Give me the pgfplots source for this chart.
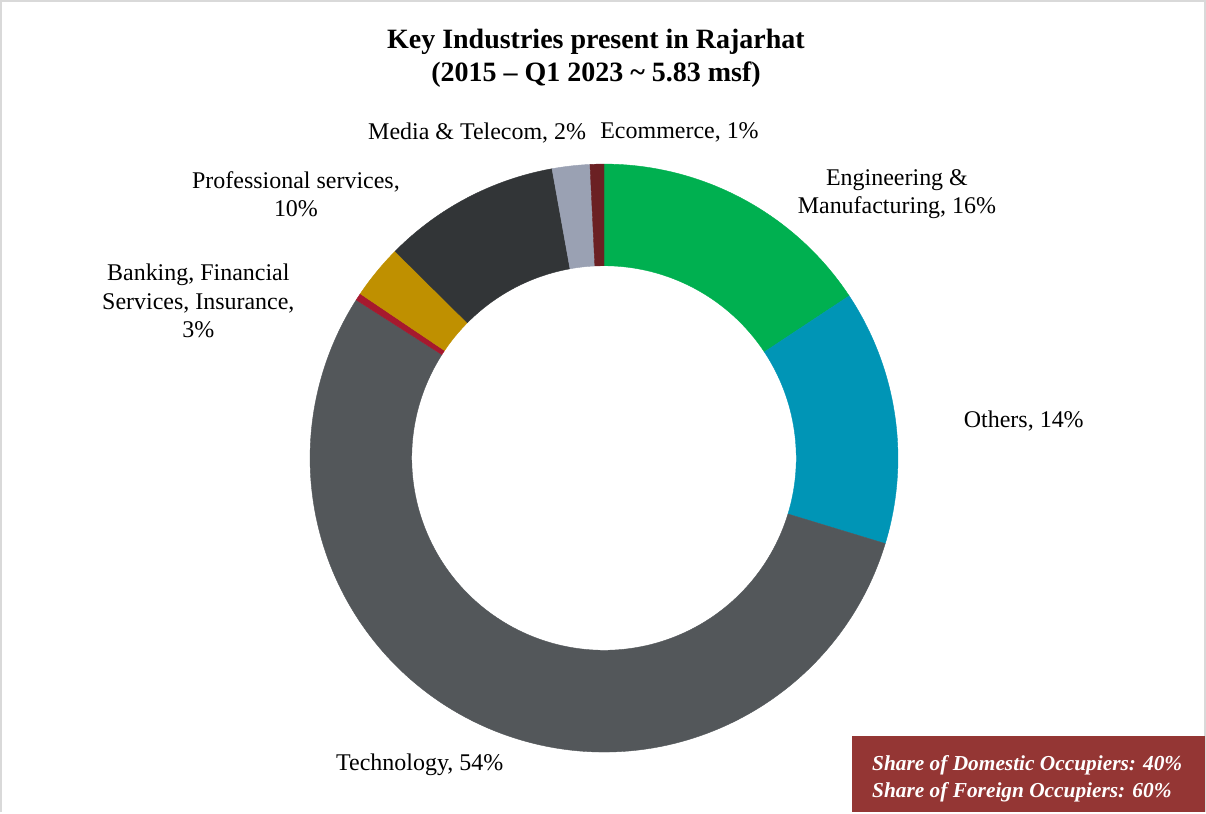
\documentclass[border=0pt]{standalone}
\usepackage{pgfplots}
\pgfplotsset{compat=1.18}
\usepackage{fontspec}
\setmainfont{Liberation Serif}
\definecolor{cEng}{HTML}{00B050}
\definecolor{cOth}{HTML}{0095B6}
\definecolor{cTech}{HTML}{53575A}
\definecolor{cRed}{HTML}{A6192E}
\definecolor{cBank}{HTML}{BF9000}
\definecolor{cProf}{HTML}{323537}
\definecolor{cMedia}{HTML}{9AA1B3}
\definecolor{cEcom}{HTML}{6B2023}
\definecolor{cBox}{HTML}{943634}
\definecolor{cFrame}{HTML}{D9D9D9}
\tikzset{lbl/.style={font=\fontsize{11.9}{14}\selectfont, align=center, inner sep=0pt}}
% donut slice: start %, end % (cumulative, clockwise from top), colour
\newcommand{\slice}[3]{%
  \fill[#3,draw=#3,line width=0.2pt]
    (axis cs:{606+292*cos(90-3.6*#1)},{352+292*sin(90-3.6*#1)})
    arc[start angle={90-3.6*#1}, end angle={90-3.6*#2}, radius=146pt]
    -- (axis cs:{606+191*cos(90-3.6*#2)},{352+191*sin(90-3.6*#2)})
    arc[start angle={90-3.6*#2}, end angle={90-3.6*#1}, radius=95.5pt]
    -- cycle;}
\begin{document}
\begin{tikzpicture}
\begin{axis}[
  width=603pt, height=406pt, scale only axis,
  xmin=0, xmax=1206, ymin=0, ymax=812,
  hide axis, clip=false,
]
% frame
\draw[cFrame, line width=1pt] (axis cs:7,0) -- (axis cs:7,806) -- (axis cs:1203,806) -- (axis cs:1203,0);
% slices: Engineering 15.7, Others 14.0, Technology 54.34, (unlabelled) 0.4,
% BFSI 2.98, Professional 9.75, Media 2.07, Ecommerce 0.76
\slice{0}{15.7}{cEng}
\slice{15.7}{29.7}{cOth}
\slice{29.7}{84.04}{cTech}
\slice{84.04}{84.44}{cRed}
\slice{84.44}{87.42}{cBank}
\slice{87.42}{97.17}{cProf}
\slice{97.17}{99.24}{cMedia}
\slice{99.24}{100}{cEcom}
% title
\node[align=center, inner sep=0pt, font=\fontsize{13.9}{16}\selectfont\bfseries] at (axis cs:598,749) {Key Industries present in Rajarhat\\(2015 -- Q1 2023 \char`\~{} 5.83 msf)};
% labels
\node[lbl] at (axis cs:480,675) {Media \& Telecom, 2\%};
\node[lbl] at (axis cs:681,675) {Ecommerce, 1\%};
\node[lbl] at (axis cs:897,614) {Engineering \&\\Manufacturing, 16\%};
\node[lbl] at (axis cs:1023,389) {Others, 14\%};
\node[lbl] at (axis cs:423,47) {Technology, 54\%};
\node[lbl] at (axis cs:203,508) {Banking, Financial\\Services, Insurance,\\3\%};
\node[lbl] at (axis cs:300,614) {Professional services,\\10\%};
% box
\fill[cBox] (axis cs:852,0) rectangle (axis cs:1203,76);
\node[anchor=base west, inner sep=0pt, text=white, font=\fontsize{10.6}{14}\selectfont\bfseries\itshape] at (axis cs:872,42) {Share of Domestic Occupiers: 40\%};
\node[anchor=base west, inner sep=0pt, text=white, font=\fontsize{10.6}{14}\selectfont\bfseries\itshape] at (axis cs:872,15) {Share of Foreign Occupiers: 60\%};
\end{axis}
\end{tikzpicture}
\end{document}
